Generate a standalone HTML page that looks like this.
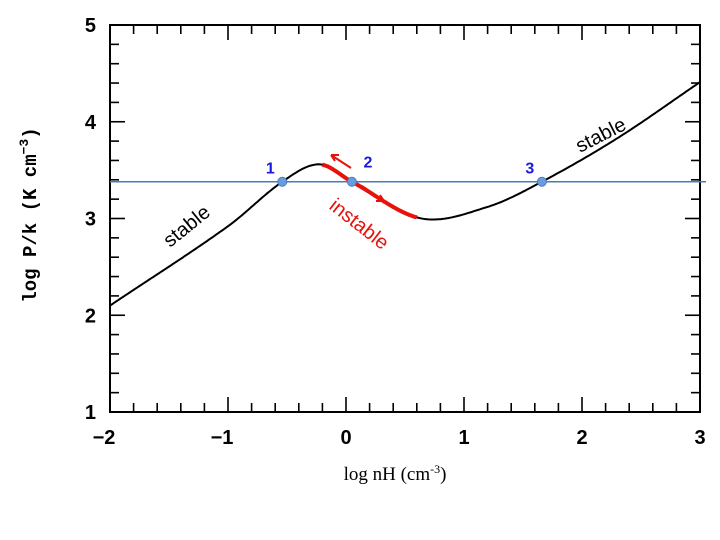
<!DOCTYPE html>
<html><head><meta charset="utf-8"><style>
body{margin:0;background:#fff}
svg{display:block}
</style></head><body>
<svg width="720" height="540" viewBox="0 0 720 540" xmlns="http://www.w3.org/2000/svg">
<g id="axes"></g>
<g id="series"></g>
<g id="anno"></g>
</svg>
<script>
const xTickLabels=[-2,-1,0,1,2,3];
const yTickLabels=[1,2,3,4,5];
const curveX=[-2,-1,-0.54,-0.23,0.05,0.64,1.2,1.66,2.3,3];
const curveY=[2.1,2.92,3.38,3.56,3.38,3.0,3.12,3.38,3.83,4.41];
const unstableRange=[-0.2,0.6];
const pressureLevel=[3.38];
const pointX=[-0.54,0.05,1.66];
const pointLabels=["1","2","3"];

const L=110,R=700,T=25,B=412;
const sx=v=>L+(v+2)/5*(R-L);
const sy=v=>B-(v-1)/4*(B-T);
const NS="http://www.w3.org/2000/svg";
function mk(tag,attrs,parent,text){const e=document.createElementNS(NS,tag);for(const k in attrs)e.setAttribute(k,attrs[k]);if(text!==undefined)e.textContent=text;parent.appendChild(e);return e;}
const axes=document.getElementById('axes'),series=document.getElementById('series'),anno=document.getElementById('anno');

const frame=mk('rect',{x:L,y:T,width:R-L,height:B-T,fill:'none',stroke:'#000','stroke-width':2},axes);


for(let i=0;i<=25;i++){const v=-2+i*0.2;const x=sx(v);const major=i%5===0;const len=major?15:9;
 mk('line',{x1:x,y1:B,x2:x,y2:B-len,stroke:'#000','stroke-width':1.6},axes);
 mk('line',{x1:x,y1:T,x2:x,y2:T+len,stroke:'#000','stroke-width':1.6},axes);}
for(let i=0;i<=20;i++){const v=1+i*0.2;const y=sy(v);const major=i%5===0;const len=major?15:9;
 mk('line',{x1:L,y1:y,x2:L+len,y2:y,stroke:'#000','stroke-width':1.6},axes);
 mk('line',{x1:R,y1:y,x2:R-len,y2:y,stroke:'#000','stroke-width':1.6},axes);}
xTickLabels.forEach(v=>{const t=mk('text',{x:sx(v)-(v<0?6:0),y:444,'text-anchor':'middle','font-family':'Liberation Sans, sans-serif','font-weight':'bold','font-size':20},axes,v<0?'\u2212'+Math.abs(v):String(v));
 
 });
yTickLabels.forEach(v=>{const t=mk('text',{x:96,y:sy(v)+7,'text-anchor':'end','font-family':'Liberation Sans, sans-serif','font-weight':'bold','font-size':20},axes,String(v));
 
 });
const xt=mk('text',{x:395,y:480,'text-anchor':'middle','font-family':'Liberation Serif, serif','font-size':19},axes);
xt.innerHTML='log nH (cm<tspan dy="-7" font-size="12">-3</tspan><tspan dy="7">)</tspan>';


const yt=mk('text',{x:0,y:0,'text-anchor':'middle','font-family':'Liberation Mono, monospace','font-weight':'bold','font-size':19,transform:'translate(36,215) rotate(-90)'},axes);
yt.innerHTML='log P/k (K cm<tspan dy="-8" font-size="13">\u22123</tspan><tspan dy="8">)</tspan>';



function slope(i){const n=curveX.length;
 if(i===0)return (curveY[1]-curveY[0])/(curveX[1]-curveX[0]);
 if(i===n-1)return (curveY[n-1]-curveY[n-2])/(curveX[n-1]-curveX[n-2]);
 return (curveY[i+1]-curveY[i-1])/(curveX[i+1]-curveX[i-1]);}
function interp(x){for(let i=0;i<curveX.length-1;i++){if(x>=curveX[i]&&x<=curveX[i+1]){
 const h=curveX[i+1]-curveX[i],t=(x-curveX[i])/h;
 const h00=2*t*t*t-3*t*t+1,h10=t*t*t-2*t*t+t,h01=-2*t*t*t+3*t*t,h11=t*t*t-t*t;
 return h00*curveY[i]+h10*h*slope(i)+h01*curveY[i+1]+h11*h*slope(i+1);}}return curveY[curveY.length-1];}
function pathFor(a,b){let d='';const n=300;for(let i=0;i<=n;i++){const x=a+(b-a)*i/n;d+=(i?'L':'M')+sx(x).toFixed(1)+','+sy(interp(x)).toFixed(1);}return d;}
const eq=mk('path',{d:pathFor(curveX[0],curveX[curveX.length-1]),fill:'none',stroke:'#000','stroke-width':2},series);


const un=mk('path',{d:pathFor(unstableRange[0],unstableRange[1]),fill:'none',stroke:'#e8120c','stroke-width':4},series);


const hl=mk('line',{x1:L,y1:sy(pressureLevel[0]),x2:706,y2:sy(pressureLevel[0]),stroke:'#4a7ab8','stroke-width':1.5},series);


pointX.forEach((v,i)=>{const c=mk('circle',{cx:sx(v),cy:sy(pressureLevel[0]),r:4.5,fill:'#6a9de0',stroke:'#4a7ab8','stroke-width':1},series);
 
 
 const t=mk('text',{x:sx(v)-12,y:sy(pressureLevel[0])-8,'text-anchor':'middle','font-family':'Liberation Sans, sans-serif','font-weight':'bold','font-size':16,fill:'#1a1adf'},series,pointLabels[i]);
 if(i===1)t.setAttribute('x',sx(v)+16),t.setAttribute('y',sy(pressureLevel[0])-14);
 
 });

const s1=mk('text',{x:0,y:0,'font-family':'Liberation Sans, sans-serif','font-size':20,transform:'translate(170,248) rotate(-39)'},anno,'stable');


const s2=mk('text',{x:0,y:0,'font-family':'Liberation Sans, sans-serif','font-size':20,transform:'translate(580,153) rotate(-27)'},anno,'stable');


const s3=mk('text',{x:0,y:0,'font-family':'Liberation Sans, sans-serif','font-size':20,fill:'#e8120c',transform:'translate(328,208) rotate(38)'},anno,'instable');


const a1=mk('path',{d:'M351,168 L331,155 M331,155 L339,155 M331,155 L335,161',stroke:'#e8120c','stroke-width':2,fill:'none'},anno);


const a2=mk('path',{d:'M362,186 L384,201 M384,201 L376,201 M384,201 L380,195',stroke:'#e8120c','stroke-width':2,fill:'none'},anno);


</script>
</body></html>
